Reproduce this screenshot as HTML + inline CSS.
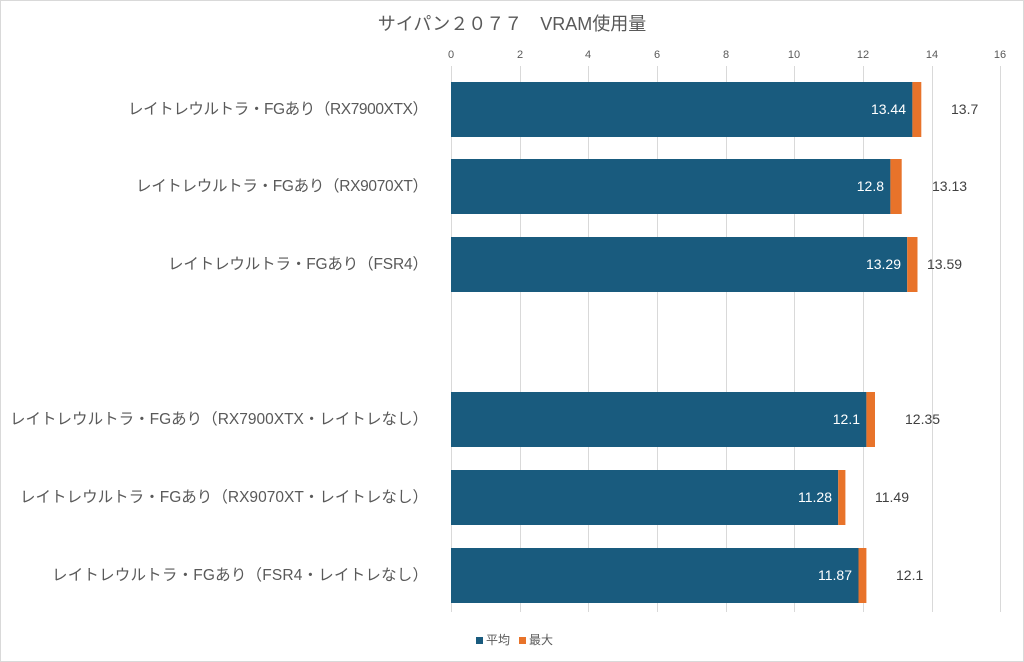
<!DOCTYPE html>
<html><head><meta charset="utf-8"><style>
html,body{margin:0;padding:0;background:#fff;}
svg{display:block;font-family:"Liberation Sans","Noto Sans CJK JP",sans-serif;}
</style></head><body>
<svg width="1024" height="662" viewBox="0 0 1024 662" xmlns="http://www.w3.org/2000/svg">
<rect x="0.5" y="0.5" width="1023" height="661" fill="#fff" stroke="#d9d9d9"/>
<text x="512" y="30" text-anchor="middle" font-size="18" fill="#595959">サイパン２０７７　VRAM使用量</text>
<g stroke="#d9d9d9" stroke-width="1">
<line x1="451.5" y1="66" x2="451.5" y2="612"/>
<line x1="520.5" y1="66" x2="520.5" y2="612"/>
<line x1="588.5" y1="66" x2="588.5" y2="612"/>
<line x1="657.5" y1="66" x2="657.5" y2="612"/>
<line x1="726.5" y1="66" x2="726.5" y2="612"/>
<line x1="794.5" y1="66" x2="794.5" y2="612"/>
<line x1="863.5" y1="66" x2="863.5" y2="612"/>
<line x1="932.5" y1="66" x2="932.5" y2="612"/>
<line x1="1000.5" y1="66" x2="1000.5" y2="612"/>
</g>
<g font-size="11" fill="#595959" text-anchor="middle">
<text x="451" y="58">0</text><text x="520" y="58">2</text><text x="588" y="58">4</text><text x="657" y="58">6</text><text x="726" y="58">8</text><text x="794" y="58">10</text><text x="863" y="58">12</text><text x="932" y="58">14</text><text x="1000" y="58">16</text>
</g>
<g>
<rect x="451" y="82" width="461.4" height="55" fill="#195b7e"/><rect x="912.4" y="82" width="8.9" height="55" fill="#e8732a"/>
<rect x="451" y="159" width="439.4" height="55" fill="#195b7e"/><rect x="890.4" y="159" width="11.3" height="55" fill="#e8732a"/>
<rect x="451" y="237" width="456.2" height="55" fill="#195b7e"/><rect x="907.2" y="237" width="10.3" height="55" fill="#e8732a"/>
<rect x="451" y="392" width="415.4" height="55" fill="#195b7e"/><rect x="866.4" y="392" width="8.6" height="55" fill="#e8732a"/>
<rect x="451" y="470" width="387.2" height="55" fill="#195b7e"/><rect x="838.2" y="470" width="7.2" height="55" fill="#e8732a"/>
<rect x="451" y="548" width="407.5" height="55" fill="#195b7e"/><rect x="858.5" y="548" width="7.9" height="55" fill="#e8732a"/>
</g>
<g font-size="14" fill="#fff" text-anchor="end">
<text x="906" y="114">13.44</text>
<text x="884" y="191">12.8</text>
<text x="901" y="269">13.29</text>
<text x="860" y="424">12.1</text>
<text x="832" y="502">11.28</text>
<text x="852" y="580">11.87</text>
</g>
<g font-size="14" fill="#404040">
<text x="951" y="114">13.7</text>
<text x="932" y="191">13.13</text>
<text x="927" y="269">13.59</text>
<text x="905" y="424">12.35</text>
<text x="875" y="502">11.49</text>
<text x="896" y="580">12.1</text>
</g>
<g font-size="15.5" fill="#595959">
<text x="128" y="114" textLength="300" lengthAdjust="spacing">レイトレウルトラ・FGあり（RX7900XTX）</text>
<text x="136" y="191" textLength="292" lengthAdjust="spacing">レイトレウルトラ・FGあり（RX9070XT）</text>
<text x="168" y="269" textLength="260" lengthAdjust="spacing">レイトレウルトラ・FGあり（FSR4）</text>
<text x="10" y="424" textLength="418" lengthAdjust="spacing">レイトレウルトラ・FGあり（RX7900XTX・レイトレなし）</text>
<text x="20" y="502" textLength="408" lengthAdjust="spacing">レイトレウルトラ・FGあり（RX9070XT・レイトレなし）</text>
<text x="52" y="580" textLength="376" lengthAdjust="spacing">レイトレウルトラ・FGあり（FSR4・レイトレなし）</text>
</g>
<rect x="476" y="637" width="7" height="7" fill="#195b7e"/>
<text x="486" y="644" font-size="12" fill="#595959">平均</text>
<rect x="519" y="637" width="7" height="7" fill="#e8732a"/>
<text x="529" y="644" font-size="12" fill="#595959">最大</text>
</svg>
</body></html>
